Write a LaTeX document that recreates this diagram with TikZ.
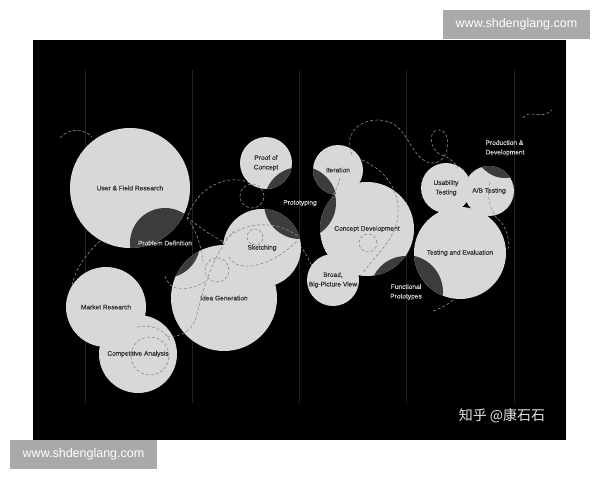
\documentclass[tikz,border=0pt]{standalone}
\usepackage{fontspec}
\setmainfont{Liberation Sans}
\newfontfamily\labelfont{Liberation Sans}[FakeBold=0.35]
\newfontfamily\cjk{Noto Sans CJK SC}
\usepackage{tikz}
\definecolor{bubblegray}{HTML}{D8D8D8}
\definecolor{lensgray}{HTML}{3C3C3C}
\definecolor{inkgray}{HTML}{333333}
\definecolor{palegray}{HTML}{D0D0D0}
\definecolor{trailgray}{HTML}{8C8C8C}
\definecolor{railgray}{HTML}{222222}
\definecolor{markgray}{HTML}{A9A9A9}
\tikzstyle{bubble} = [circle, fill=bubblegray, inner sep=0pt, text=inkgray, align=center, font=\labelfont\fontsize{6.6}{9.5}\selectfont]
\tikzstyle{hidden} = [text=palegray, align=center, font=\labelfont\fontsize{6.6}{9.5}\selectfont]
\tikzstyle{lens} = [fill=lensgray]
\tikzstyle{trail} = [draw=trailgray, line width=0.6pt, dash pattern=on 3pt off 2pt]
\tikzstyle{rail} = [draw=railgray, line width=0.4pt]
\tikzstyle{stamp} = [fill=markgray, text=white, font=\fontsize{12.5}{14}\selectfont, minimum width=147pt, minimum height=29pt, inner sep=0pt]

\begin{document}
\begin{tikzpicture}[x=1pt, y=-1pt]
\fill[white] (0,0) rectangle (600,480);
\useasboundingbox (0,0) rectangle (600,480);
\fill[black] (33,40) rectangle (566,440);

% Rails
\foreach \x in {85,192,299,406,514}
  \draw[rail] (\x,70) -- (\x,403);

% Dark circle centres
\coordinate (pdc) at (165,243);
\coordinate (protoc) at (300,203);
\coordinate (funcc) at (406,292);
\coordinate (prodc) at (505,148);

% Bubbles
\node (user) [bubble, minimum size=120pt, path picture={\fill[lens] (pdc) circle[radius=35pt];}] at (130,188) {User \& Field Research};
\node (market) [bubble, minimum size=80pt] at (106,307) {Market Research};
\node (compet) [bubble, minimum size=78pt] at (138,354) {Competitive Analysis};
\node (idea) [bubble, minimum size=106pt, path picture={\fill[lens] (pdc) circle[radius=35pt];}] at (224,298) {Idea Generation};
\node (sketch) [bubble, minimum size=78pt, path picture={\fill[lens] (protoc) circle[radius=36pt];}] at (262,248) {Sketching};
\node (proof) [bubble, minimum size=52pt, path picture={\fill[lens] (protoc) circle[radius=36pt];}] at (266,163) {Proof of\\Concept};
\node (iter) [bubble, minimum size=50pt, path picture={\fill[lens] (protoc) circle[radius=37pt];}] at (338,170) {Iteration};
\node (concept) [bubble, minimum size=94pt, path picture={\fill[lens] (protoc) circle[radius=36pt] (funcc) circle[radius=36pt];}] at (367,229) {Concept Development};
\node (broad) [bubble, minimum size=52pt] at (333,280) {Broad,\\Big-Picture View};
\node (usab) [bubble, minimum size=50pt] at (446,188) {Usability\\Testing};
\node (abtest) [bubble, minimum size=50pt, path picture={\fill[lens] (prodc) circle[radius=30pt];}] at (489,191) {A/B Testing};
\node (testeval) [bubble, minimum size=92pt, path picture={\fill[lens] (funcc) circle[radius=37pt];}] at (460,253) {Testing and Evaluation};

% Dark circles
\node (probdef) [hidden] at (pdc) {Problem Definition};
\node (proto) [hidden] at (protoc) {Prototyping};
\node (func) [hidden] at (funcc) {Functional\\Prototypes};
\node (prod) [hidden, align=left] at (prodc) {Production \&\\Development};

% Trails
\draw[trail] (60,138) .. controls (68,128) and (84,128) .. (92,137);
\draw[trail] (100,241) .. controls (86,254) and (76,268) .. (72,285);
\draw[trail] (187,220) .. controls (195,186) and (230,172) .. (252,184);
\draw[trail] (252,196) circle[radius=12pt];
\draw[trail] (187,217) .. controls (200,228) and (212,236) .. (224,242);
\draw[trail] (190,222) .. controls (198,235) and (202,250) .. (203,262);
\draw[trail] (222,243) .. controls (240,222) and (275,218) .. (299,237);
\draw[trail] (255,237) circle[radius=8pt];
\draw[trail] (229,257) .. controls (236,272) and (268,270) .. (298,240);
\draw[trail] (217,270) circle[radius=12pt];
\draw[trail] (165,276) .. controls (170,292) and (186,292) .. (205,282);
\draw[trail] (234,231) .. controls (210,258) and (202,295) .. (196,318) .. controls (191,333) and (178,338) .. (165,336);
\draw[trail] (150,356) circle[radius=19pt];
\draw[trail] (137,327) .. controls (150,324) and (165,329) .. (170,341);
\draw[trail] (300,245) .. controls (305,252) and (308,258) .. (312,266);
\draw[trail] (352,155) .. controls (340,125) and (375,112) .. (395,125) .. controls (410,135) and (415,165) .. (435,163) .. controls (450,160) and (452,132) .. (440,130) .. controls (428,128) and (428,150) .. (442,155) .. controls (450,158) and (455,163) .. (458,168);
\draw[trail] (362,160) .. controls (385,170) and (400,190) .. (398,215) .. controls (396,240) and (375,255) .. (363,273);
\draw[trail] (340,178) .. controls (338,186) and (335,192) .. (332,198);
\draw[trail] (368,243) circle[radius=9pt];
\draw[trail] (523,118) .. controls (530,108) and (540,121) .. (552,110);
\draw[trail] (490,182) .. controls (486,195) and (490,210) .. (498,220);
\draw[trail] (498,219) .. controls (506,226) and (510,238) .. (508,250);
\draw[trail] (433,311) .. controls (442,308) and (450,303) .. (456,298);

% Marks
\node (stamptop) [stamp] at (516.5,24.5) {www.shdenglang.com};
\node (stampbot) [stamp] at (83.5,454.5) {www.shdenglang.com};
\node (zhihu) [text=white!90!black, font=\cjk\fontsize{14}{16}\selectfont] at (502,416) {知乎 @康石石};
\end{tikzpicture}
\end{document}
